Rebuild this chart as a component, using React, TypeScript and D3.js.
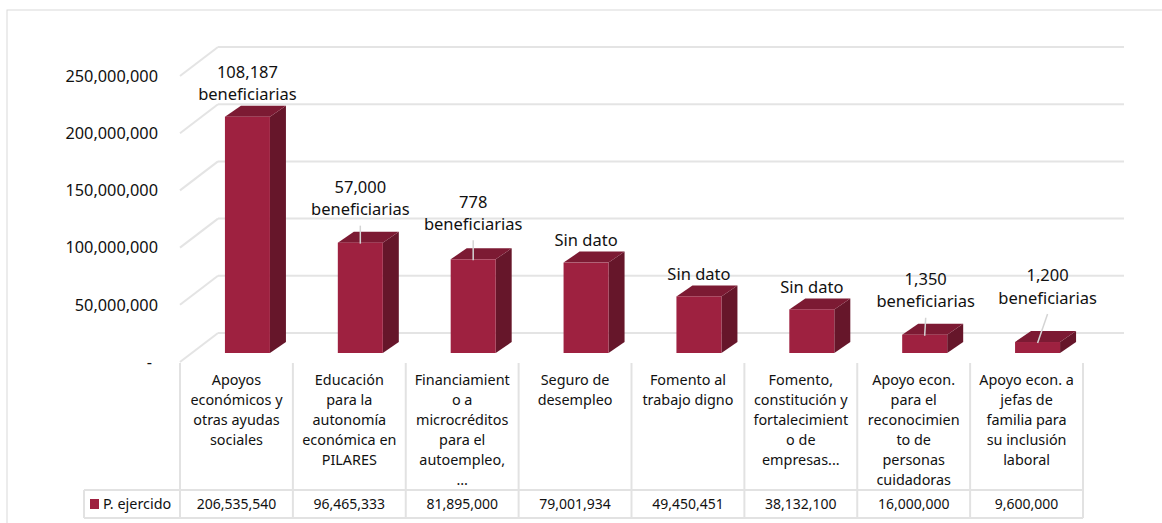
import React from "react";
import * as d3 from "d3";

const categories: string[][] = [
  ["Apoyos", "económicos y", "otras ayudas", "sociales"],
  ["Educación", "para la", "autonomía", "económica en", "PILARES"],
  ["Financiamient", "o a", "microcréditos", "para el", "autoempleo,", "…"],
  ["Seguro de", "desempleo"],
  ["Fomento al", "trabajo digno"],
  ["Fomento,", "constitución y", "fortalecimient", "o de", "empresas..."],
  ["Apoyo econ.", "para el", "reconocimien", "to de", "personas", "cuidadoras"],
  ["Apoyo econ. a", "jefas de", "familia para", "su inclusión", "laboral"],
];

const values: number[] = [206535540, 96465333, 81895000, 79001934, 49450451, 38132100, 16000000, 9600000];

const annotations: string[][] = [
  ["108,187", "beneficiarias"],
  ["57,000", "beneficiarias"],
  ["778", "beneficiarias"],
  ["Sin dato"],
  ["Sin dato"],
  ["Sin dato"],
  ["1,350", "beneficiarias"],
  ["1,200", "beneficiarias"],
];

const yTicks: number[] = [0, 50000000, 100000000, 150000000, 200000000, 250000000];
const seriesName = "P. ejercido";

// layout-only: extra lift of annotation above bar (px) and horizontal shift, and leader flag
const annLift = [0, 11, 13, 0, 0, 0, 11, 22];
const annShift = [0, 0, 0, 0, 0, 0, 1, 10];
const annLeader = [false, true, true, false, false, false, true, true];

const W = 1162;
const H = 523;
const FONT = "'Noto Sans', 'Open Sans', sans-serif";
const FRONT = "#9e2140";
const SIDE = "#66162a";
const TOP = "#7c1a33";
const GRID = "#e4e4e4";
const INK = "#111";

export default function App() {
  const fmt = d3.format(",");
  const x = d3
    .scaleBand<number>()
    .domain(d3.range(values.length))
    .range([180, 1083])
    .padding(0);
  const y = d3.scaleLinear().domain([0, 250000000]).range([362, 76]);
  const depthX = 38;
  const depthY = -29;
  const backRight = 1124;
  const barOffX = 11;
  const barOffY = -9;
  const barW = 45;
  const bdx = 16;
  const bdy = -11;

  const tableTop = 363;
  const rowSep = 490;
  const tableBottom = 518;
  const legendLeft = 84;

  return (
    <svg
      width={W}
      height={H}
      style={{ position: "absolute", left: 0, top: 0, background: "#fff" }}
      fontFamily={FONT}
    >
      <rect x={7} y={10} width={W} height={H} fill="#fff" stroke="#d9d9d9" strokeWidth={1} />

      {/* back wall gridlines and side wall diagonals */}
      {yTicks.map((t) => (
        <g key={"g" + t}>
          <line
            x1={180 + depthX}
            x2={backRight}
            y1={y(t) + depthY}
            y2={y(t) + depthY}
            stroke={GRID}
            strokeWidth={2}
          />
          <line
            x1={180}
            y1={y(t)}
            x2={180 + depthX}
            y2={y(t) + depthY}
            stroke={GRID}
            strokeWidth={2}
          />
        </g>
      ))}

      {/* y tick labels */}
      {yTicks.map((t) => (
        <text
          key={"t" + t}
          x={t === 0 ? 152 : 158}
          y={y(t)}
          dy="0.35em"
          textAnchor="end"
          fontSize={16.3}
          fill={INK}
        >
          {t === 0 ? "-" : fmt(t)}
        </text>
      ))}

      {/* bars */}
      {values.map((v, i) => {
        const cx = (x(i) as number) + x.bandwidth() / 2 + barOffX;
        const x0 = cx - barW / 2;
        const x1 = cx + barW / 2;
        const yb = y(0) + barOffY;
        const yt = y(v) + barOffY;
        const side = `M${x1},${yt} L${x1 + bdx},${yt + bdy} L${x1 + bdx},${yb + bdy} L${x1},${yb} Z`;
        const top = `M${x0},${yt} L${x0 + bdx},${yt + bdy} L${x1 + bdx},${yt + bdy} L${x1},${yt} Z`;
        return (
          <g key={"b" + i}>
            <path d={side} fill={SIDE} />
            <path d={top} fill={TOP} />
            <rect x={x0} y={yt} width={barW} height={yb - yt} fill={FRONT} />
          </g>
        );
      })}

      {/* annotations */}
      {annotations.map((lines, i) => {
        const cx = (x(i) as number) + x.bandwidth() / 2 + barOffX;
        const yt = y(values[i]) + barOffY;
        const lx = cx + annShift[i];
        const lastY = yt - 22 - annLift[i];
        const n = lines.length;
        return (
          <g key={"a" + i}>
            {annLeader[i] && (
              <line x1={lx} y1={lastY + 16} x2={cx} y2={yt + 1} stroke="#d4d4d4" strokeWidth={1.5} />
            )}
            {lines.map((s, k) => (
              <text
                key={k}
                x={lx}
                y={lastY - (n - 1 - k) * 22.5}
                dy="0.35em"
                textAnchor="middle"
                fontSize={16.5}
                fill={INK}
              >
                {s}
              </text>
            ))}
          </g>
        );
      })}

      {/* data table */}
      {d3.range(values.length + 1).map((i) => {
        const xx = i < values.length ? (x(i) as number) : 1083;
        return (
          <line key={"v" + i} x1={xx} x2={xx} y1={tableTop} y2={tableBottom} stroke="#e2e2e2" strokeWidth={2} />
        );
      })}
      <line x1={legendLeft} x2={1083} y1={rowSep} y2={rowSep} stroke="#e2e2e2" strokeWidth={2} />
      <line x1={legendLeft} x2={1083} y1={tableBottom} y2={tableBottom} stroke="#e2e2e2" strokeWidth={2} />
      <line x1={legendLeft} x2={legendLeft} y1={rowSep} y2={tableBottom} stroke="#e2e2e2" strokeWidth={2} />

      {categories.map((lines, i) => {
        const cx = (x(i) as number) + x.bandwidth() / 2;
        return (
          <g key={"c" + i}>
            {lines.map((s, k) => (
              <text key={k} x={cx} y={380 + k * 20} dy="0.35em" textAnchor="middle" fontSize={14.4} fill={INK}>
                {s}
              </text>
            ))}
            <text x={cx} y={504} dy="0.35em" textAnchor="middle" fontSize={14} fill={INK}>
              {fmt(values[i])}
            </text>
          </g>
        );
      })}

      <rect x={90} y={499} width={9} height={10} fill={FRONT} />
      <text x={103} y={504} dy="0.35em" fontSize={14.4} fill={INK}>
        {seriesName}
      </text>
    </svg>
  );
}
